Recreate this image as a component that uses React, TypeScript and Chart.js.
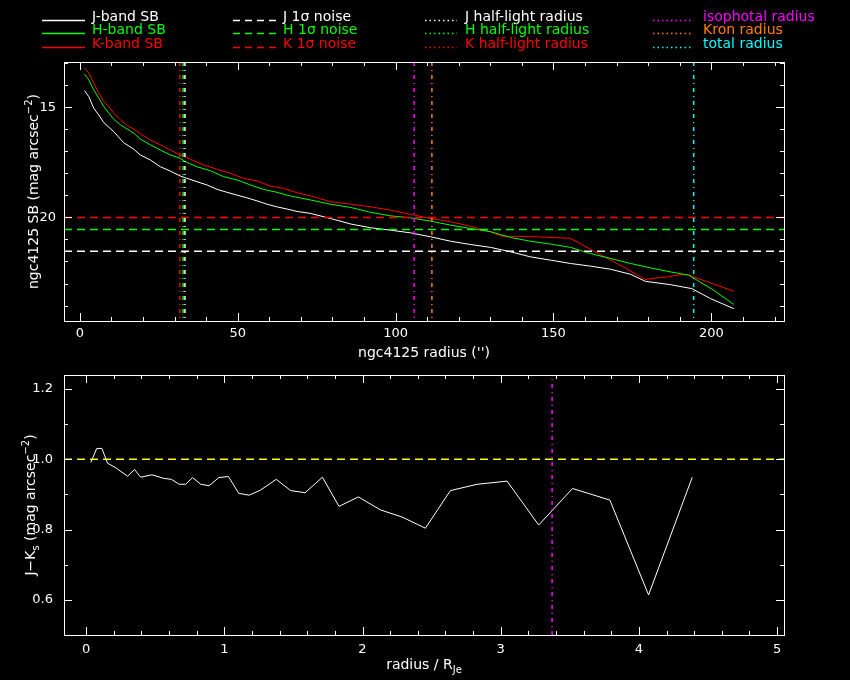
import React, { useEffect, useRef } from 'react';
import { Chart, registerables } from 'chart.js';

Chart.register(...registerables);

// surface brightness profiles (radius in arcsec, mag arcsec^-2)
const jRadius = [1.5, 2.85, 4.43, 6.0, 7.6, 10.76, 13.9, 17.1, 19.2, 22.4, 25.5, 28.7, 31.8, 33.4, 37.1, 40.3, 43.5, 46.6, 49.8, 52.9, 56.1, 59.3, 62.4, 65.6, 68.8, 73.1, 79.4, 85.8, 92.1, 98.4, 104.7, 111.1, 117.4, 123.7, 130.1, 136.4, 142.7, 149.1, 155.4, 161.7, 168.0, 174.4, 179.1, 187.0, 193.8, 199.7, 207.1];
const jSB = [14.25, 14.52, 15.05, 15.35, 15.7, 16.11, 16.61, 16.91, 17.17, 17.4, 17.7, 17.9, 18.12, 18.2, 18.38, 18.53, 18.73, 18.86, 18.99, 19.11, 19.25, 19.4, 19.52, 19.62, 19.73, 19.82, 20.05, 20.3, 20.47, 20.58, 20.7, 20.88, 21.08, 21.23, 21.36, 21.56, 21.79, 21.94, 22.09, 22.21, 22.35, 22.58, 22.9, 23.05, 23.23, 23.68, 24.14];

const hRadius = [1.5, 2.85, 4.43, 6.0, 7.6, 9.2, 10.76, 12.9, 15.0, 17.1, 19.2, 22.4, 25.5, 28.7, 31.8, 33.4, 37.1, 41.3, 45.5, 49.8, 54.0, 58.2, 62.4, 66.7, 73.1, 79.4, 85.8, 92.1, 98.4, 104.7, 111.1, 117.4, 123.7, 130.1, 136.4, 142.7, 149.1, 155.4, 161.7, 168.0, 174.4, 180.7, 187.0, 192.8, 195.5, 200.7, 207.1];
const hSB = [13.5, 13.76, 14.21, 14.59, 14.97, 15.27, 15.55, 15.8, 15.99, 16.18, 16.45, 16.71, 16.94, 17.17, 17.32, 17.47, 17.7, 17.88, 18.15, 18.3, 18.53, 18.73, 18.86, 19.03, 19.21, 19.4, 19.55, 19.77, 19.93, 20.02, 20.17, 20.35, 20.5, 20.65, 20.91, 21.08, 21.21, 21.36, 21.64, 21.86, 22.09, 22.29, 22.47, 22.62, 22.85, 23.3, 23.95];

const kRadius = [1.5, 2.85, 4.43, 6.0, 7.6, 9.2, 10.76, 12.9, 15.0, 17.1, 19.2, 22.4, 25.5, 28.7, 31.8, 35.0, 39.2, 43.5, 47.7, 51.9, 56.1, 60.3, 64.5, 68.8, 73.1, 79.4, 85.8, 92.1, 98.4, 104.7, 111.1, 117.4, 123.7, 130.1, 133.5, 142.7, 155.4, 163.8, 172.2, 179.1, 180.7, 186.0, 189.1, 192.8, 194.4, 199.7, 207.1];
const kSB = [13.23, 13.45, 13.91, 14.36, 14.75, 14.97, 15.27, 15.58, 15.84, 15.99, 16.21, 16.49, 16.71, 16.94, 17.17, 17.36, 17.62, 17.82, 18.0, 18.23, 18.34, 18.58, 18.68, 18.88, 19.02, 19.29, 19.4, 19.52, 19.67, 19.86, 20.05, 20.2, 20.4, 20.65, 20.85, 20.87, 20.95, 21.61, 22.25, 22.82, 22.78, 22.7, 22.62, 22.59, 22.7, 22.97, 23.35];

// J, H, K
const noiseLevels = [21.53, 20.55, 20.0];
const halfLightRadii = [33.3, 32.7, 31.7];
const isophotalRadius = 105.9;
const kronRadius = 111.5;
const totalRadius = 194.4;

// J-Ks colour profile (radius / R_Je)
const colorRadius = [0.034, 0.077, 0.114, 0.155, 0.21, 0.3, 0.35, 0.395, 0.476, 0.56, 0.617, 0.673, 0.72, 0.77, 0.83, 0.89, 0.96, 1.03, 1.105, 1.18, 1.26, 1.376, 1.48, 1.585, 1.71, 1.83, 1.97, 2.13, 2.285, 2.455, 2.636, 2.83, 3.046, 3.275, 3.52, 3.79, 4.07, 4.386];
const colorJK = [0.991, 1.031, 1.031, 0.989, 0.977, 0.952, 0.971, 0.949, 0.956, 0.946, 0.943, 0.929, 0.929, 0.948, 0.929, 0.925, 0.948, 0.951, 0.903, 0.898, 0.912, 0.943, 0.911, 0.905, 0.949, 0.866, 0.893, 0.856, 0.836, 0.804, 0.911, 0.929, 0.938, 0.813, 0.917, 0.884, 0.614, 0.949];
const colorIsophotal = 3.372;
const colorRef = 1.0;

const sbXTicks = [0, 50, 100, 150, 200];
const sbYTicks = [15, 20];
const colorXTicks = [0, 1, 2, 3, 4, 5];
const colorYTicks = [0.6, 0.8, 1, 1.2];

const sbLabels = ['J-band SB', 'H-band SB', 'K-band SB'];
const noiseLabels = ['J 1σ noise', 'H 1σ noise', 'K 1σ noise'];
const halfLabels = ['J half-light radius', 'H half-light radius', 'K half-light radius'];
const radiusLabels = ['isophotal radius', 'Kron radius', 'total radius'];

const BAND = ['#ffffff', '#00ff00', '#ff0000'];
const RAD = ['#ff00ff', '#ff8000', '#00ffff'];
const FONT = '"DejaVu Sans", sans-serif';
const DASH = [8, 5];
const DASHDOT = [4, 4, 1, 4];

type Part = { t: string; s?: 'sub' | 'sup' };

function drawRich(ctx: CanvasRenderingContext2D, parts: Part[], cx: number, cy: number, size: number, rotate: boolean) {
  ctx.save();
  ctx.translate(cx, cy);
  if (rotate) ctx.rotate(-Math.PI / 2);
  ctx.fillStyle = '#fff';
  ctx.textBaseline = 'alphabetic';
  const fontOf = (p: Part) => `${p.s ? Math.round(size * 0.72) : size}px ${FONT}`;
  const widths = parts.map((p) => {
    ctx.font = fontOf(p);
    return ctx.measureText(p.t).width;
  });
  let x = -widths.reduce((a, b) => a + b, 0) / 2;
  parts.forEach((p, i) => {
    ctx.font = fontOf(p);
    const dy = p.s === 'sup' ? -size * 0.42 : p.s === 'sub' ? size * 0.28 : 0;
    ctx.fillText(p.t, x, size * 0.36 + dy);
    x += widths[i];
  });
  ctx.restore();
}

const framePlugin = (xMinor: number, xRatio: number, yMinor: number, yRatio: number) => ({
  id: 'frame',
  afterDatasetsDraw(chart: any) {
    const { ctx, chartArea: a, scales } = chart;
    const xs = scales.x;
    const ys = scales.y;
    ctx.save();
    ctx.strokeStyle = '#fff';
    ctx.lineWidth = 1;
    ctx.setLineDash([]);
    ctx.strokeRect(a.left + 0.5, a.top + 0.5, a.right - a.left, a.bottom - a.top);
    ctx.beginPath();
    const lo = Math.min(xs.min, xs.max);
    const hi = Math.max(xs.min, xs.max);
    for (let k = Math.ceil(lo / xMinor); k * xMinor <= hi; k++) {
      const px = Math.round(xs.getPixelForValue(k * xMinor)) + 0.5;
      const len = k % xRatio === 0 ? 8 : 4;
      ctx.moveTo(px, a.bottom);
      ctx.lineTo(px, a.bottom - len);
      ctx.moveTo(px, a.top);
      ctx.lineTo(px, a.top + len);
    }
    const ylo = Math.min(ys.min, ys.max);
    const yhi = Math.max(ys.min, ys.max);
    for (let k = Math.ceil(ylo / yMinor - 1e-9); k * yMinor <= yhi + 1e-9; k++) {
      const py = Math.round(ys.getPixelForValue(k * yMinor)) + 0.5;
      const len = k % yRatio === 0 ? 8 : 4;
      ctx.moveTo(a.left, py);
      ctx.lineTo(a.left + len, py);
      ctx.moveTo(a.right, py);
      ctx.lineTo(a.right - len, py);
    }
    ctx.stroke();
    ctx.restore();
  },
});

const legendPlugin = {
  id: 'sbLegend',
  afterDraw(chart: any) {
    const { ctx } = chart;
    const rows = [20, 33, 47];
    const cols = [
      { x0: 42, x1: 85, tx: 92, dash: [] as number[], labels: sbLabels, colors: BAND },
      { x0: 233, x1: 277, tx: 283, dash: [7, 5], labels: noiseLabels, colors: BAND },
      { x0: 425, x1: 457, tx: 465, dash: [1.5, 3], labels: halfLabels, colors: BAND },
      { x0: 653, x1: 693, tx: 703, dash: [1.5, 3], labels: radiusLabels, colors: RAD },
    ];
    ctx.save();
    ctx.font = `14px ${FONT}`;
    ctx.textBaseline = 'alphabetic';
    ctx.lineWidth = 1.5;
    cols.forEach((c) => {
      c.labels.forEach((label, i) => {
        const y = rows[i] + 0.5;
        ctx.strokeStyle = c.colors[i];
        ctx.fillStyle = c.colors[i];
        ctx.setLineDash(c.dash);
        ctx.beginPath();
        ctx.moveTo(c.x0, y);
        ctx.lineTo(c.x1, y);
        ctx.stroke();
        ctx.fillText(label, c.tx, rows[i] + 1);
      });
    });
    ctx.restore();
  },
};

const sbTitles = {
  id: 'sbTitles',
  afterDraw(chart: any) {
    const { ctx, chartArea: a } = chart;
    const cx = (a.left + a.right) / 2;
    drawRich(ctx, [{ t: "ngc4125 radius ('')" }], cx, 352, 14, false);
    drawRich(ctx, [{ t: 'ngc4125 SB (mag arcsec' }, { t: '−2', s: 'sup' }, { t: ')' }], 33, (a.top + a.bottom) / 2, 14, true);
  },
};

const colorTitles = {
  id: 'colorTitles',
  afterDraw(chart: any) {
    const { ctx, chartArea: a } = chart;
    const cx = (a.left + a.right) / 2;
    drawRich(ctx, [{ t: 'radius / R' }, { t: 'Je', s: 'sub' }], cx, 294, 14, false);
    drawRich(ctx, [{ t: 'J−K' }, { t: 's', s: 'sub' }, { t: ' (mag arcsec' }, { t: '−2', s: 'sup' }, { t: ')' }], 30, (a.top + a.bottom) / 2, 14, true);
  },
};

const pts = (xs: number[], ys: number[]) => xs.map((x, i) => ({ x, y: ys[i] }));

const line = (data: any[], color: string, dash: number[] = [], width = 1) => ({
  data,
  borderColor: color,
  backgroundColor: color,
  borderWidth: width,
  borderDash: dash,
  pointRadius: 0,
  fill: false,
  tension: 0,
});

const tickFont = { family: FONT, size: 13 };

const SB_XMIN = -5;
const SB_XMAX = 223;
const SB_YMIN = 12.95;
const SB_YMAX = 24.7;
const C_XMIN = -0.16;
const C_XMAX = 5.05;
const C_YMIN = 0.5;
const C_YMAX = 1.24;

const noPadX = (h: number) => (s: any) => {
  s.height = h;
  s.paddingLeft = 0;
  s.paddingRight = 0;
};
const noPadY = (w: number) => (s: any) => {
  s.width = w;
  s.paddingTop = 0;
  s.paddingBottom = 0;
};

const App: React.FC = () => {
  const topRef = useRef<HTMLCanvasElement | null>(null);
  const botRef = useRef<HTMLCanvasElement | null>(null);

  useEffect(() => {
    document.body.style.margin = '0';
    document.body.style.background = '#000';
    const top = topRef.current;
    const bot = botRef.current;
    if (!top || !bot) return;

    const vline = (x: number, color: string, y0: number, y1: number) => line([{ x, y: y0 }, { x, y: y1 }], color, DASHDOT, 1.5);
    const hline = (y: number, color: string, x0: number, x1: number) => line([{ x: x0, y }, { x: x1, y }], color, DASH, 1.5);

    const topChart = new Chart(top, {
      type: 'line',
      data: {
        datasets: [
          ...halfLightRadii.map((r, i) => vline(r, BAND[i], SB_YMIN, SB_YMAX)),
          vline(isophotalRadius, RAD[0], SB_YMIN, SB_YMAX),
          vline(kronRadius, RAD[1], SB_YMIN, SB_YMAX),
          vline(totalRadius, RAD[2], SB_YMIN, SB_YMAX),
          ...noiseLevels.map((v, i) => hline(v, BAND[i], SB_XMIN, SB_XMAX)),
          line(pts(jRadius, jSB), BAND[0]),
          line(pts(hRadius, hSB), BAND[1]),
          line(pts(kRadius, kSB), BAND[2]),
        ] as any,
      },
      options: {
        animation: false,
        responsive: false,
        layout: { padding: { left: 0, right: 66, top: 62, bottom: 0 } },
        plugins: { legend: { display: false }, tooltip: { enabled: false } },
        scales: {
          x: {
            type: 'linear',
            min: SB_XMIN,
            max: SB_XMAX,
            grid: { display: false, drawTicks: false },
            border: { display: false },
            ticks: { color: '#fff', font: tickFont, padding: 5, maxRotation: 0 },
            afterBuildTicks: (s: any) => {
              s.ticks = sbXTicks.map((value) => ({ value }));
            },
            afterFit: noPadX(49),
          },
          y: {
            type: 'linear',
            reverse: true,
            min: SB_YMIN,
            max: SB_YMAX,
            grid: { display: false, drawTicks: false },
            border: { display: false },
            ticks: { color: '#fff', font: tickFont, padding: 8 },
            afterBuildTicks: (s: any) => {
              s.ticks = sbYTicks.map((value) => ({ value }));
            },
            afterFit: noPadY(64),
          },
        },
      } as any,
      plugins: [framePlugin(10, 5, 1, 5), legendPlugin, sbTitles],
    });

    const botChart = new Chart(bot, {
      type: 'line',
      data: {
        datasets: [
          vline(colorIsophotal, RAD[0], C_YMIN, C_YMAX),
          hline(colorRef, '#ffff00', C_XMIN, C_XMAX),
          line(pts(colorRadius, colorJK), '#ffffff'),
        ] as any,
      },
      options: {
        animation: false,
        responsive: false,
        layout: { padding: { left: 0, right: 66, top: 5, bottom: 0 } },
        plugins: { legend: { display: false }, tooltip: { enabled: false } },
        scales: {
          x: {
            type: 'linear',
            min: C_XMIN,
            max: C_XMAX,
            grid: { display: false, drawTicks: false },
            border: { display: false },
            ticks: { color: '#fff', font: tickFont, padding: 7, maxRotation: 0 },
            afterBuildTicks: (s: any) => {
              s.ticks = colorXTicks.map((value) => ({ value }));
            },
            afterFit: noPadX(45),
          },
          y: {
            type: 'linear',
            min: C_YMIN,
            max: C_YMAX,
            grid: { display: false, drawTicks: false },
            border: { display: false },
            ticks: { color: '#fff', font: tickFont, padding: 11 },
            afterBuildTicks: (s: any) => {
              s.ticks = colorYTicks.map((value) => ({ value }));
            },
            afterFit: noPadY(64),
          },
        },
      } as any,
      plugins: [framePlugin(0.2, 5, 0.1, 2), colorTitles],
    });

    return () => {
      topChart.destroy();
      botChart.destroy();
    };
  }, []);

  return (
    <div style={{ width: 850, height: 680, background: '#000' }}>
      <canvas ref={topRef} width={850} height={370} style={{ display: 'block', width: 850, height: 370 }} />
      <canvas ref={botRef} width={850} height={310} style={{ display: 'block', width: 850, height: 310 }} />
    </div>
  );
};

export default App;
